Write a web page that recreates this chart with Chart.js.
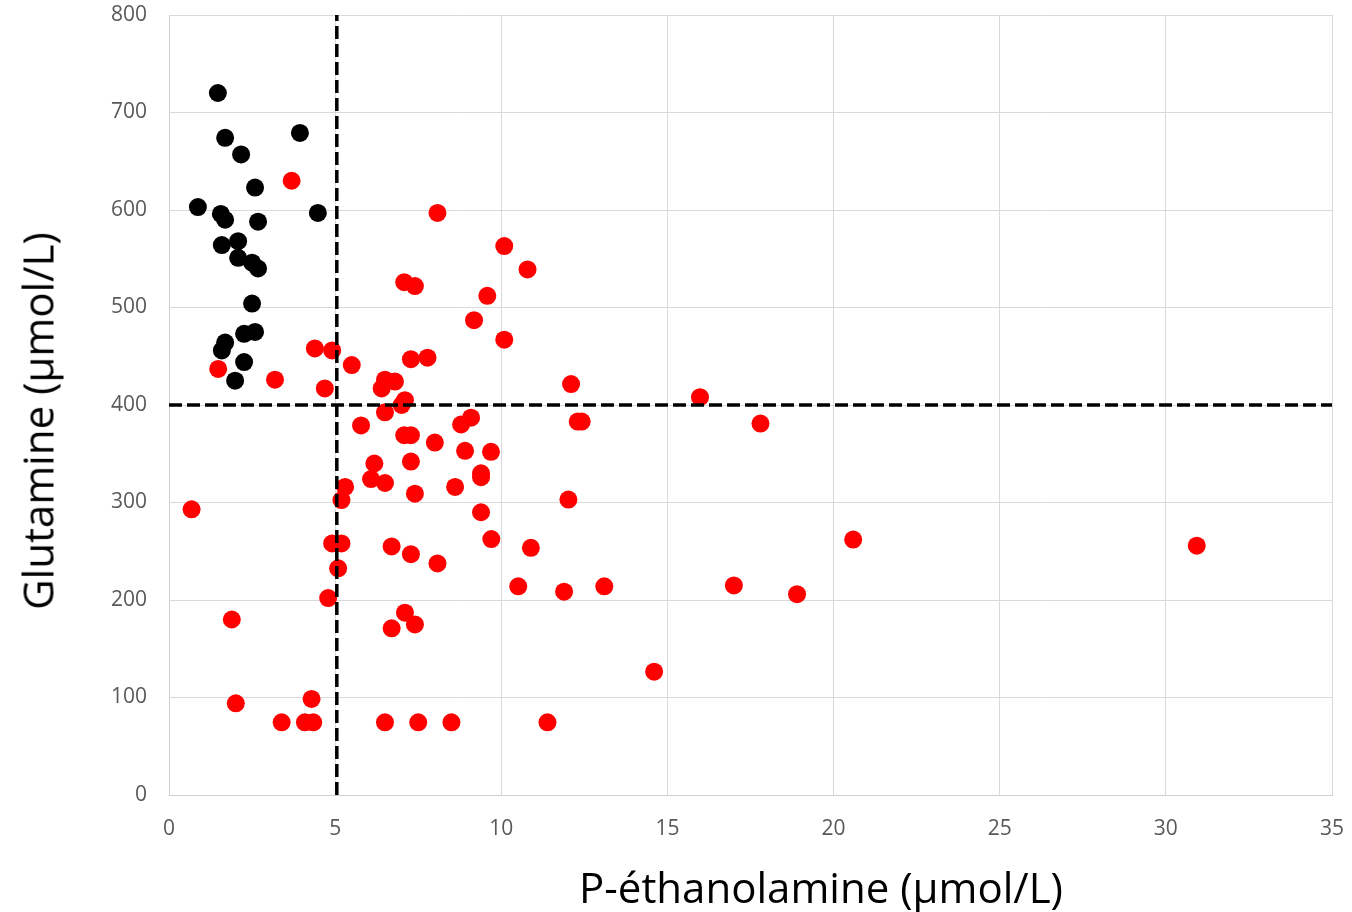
<!DOCTYPE html>
<html>
<head>
<meta charset="utf-8">
<script src="https://cdn.jsdelivr.net/npm/chart.js@4"></script>
<style>
  body { margin: 0; background: #fff; }
  #wrap { position: relative; width: 1352px; height: 912px; }
  .titre { position: absolute; font-family: "Open Sans", sans-serif; font-size: 42px; color: #000; white-space: nowrap; transform: translate(-50%, -50%); }
  #titreX { left: 821px; top: 886px; }
  #titreY { left: 37px; top: 421px; transform: translate(-50%, -50%) rotate(-90deg); }
</style>
</head>
<body>
<div id="wrap">
  <canvas id="myChart" width="1352" height="912"></canvas>
  <div class="titre" id="titreX">P-éthanolamine (µmol/L)</div>
  <div class="titre" id="titreY">Glutamine (µmol/L)</div>
</div>
<script>
// groupe noir
const noirX = [1.47, 3.94, 1.69, 2.17, 2.59, 0.87, 1.56, 1.69, 2.68, 4.48, 2.08,
               1.59, 2.08, 2.50, 2.68, 2.50, 2.59, 2.26, 1.69, 1.59, 2.26, 1.99];
const noirY = [720, 679, 674, 657, 623, 603, 596, 590, 588, 597, 568,
               564, 551, 546, 540, 504, 475, 473, 464, 456, 444, 425];

// groupe rouge
const rougeX = [3.69, 1.48, 3.19, 4.39, 4.91, 5.50, 4.69, 0.68, 1.89, 2.01, 4.29,
                3.39, 4.09, 4.34, 4.79, 5.09, 4.91, 5.19, 5.30, 5.19, 5.78, 8.08,
                10.09, 10.79, 7.08, 7.40, 9.58, 9.18, 10.09, 7.28, 7.78, 6.50, 6.80,
                6.40, 12.10, 7.10, 7.00, 6.50, 9.09, 8.79, 12.30, 12.42, 7.08, 7.28,
                8.00, 8.91, 9.69, 6.18, 7.28, 6.08, 6.50, 9.39, 9.39, 8.61, 7.40,
                12.02, 9.39, 9.70, 6.70, 7.28, 8.08, 10.89, 10.51, 11.89, 13.10,
                7.10, 6.70, 7.40, 6.50, 7.50, 8.50, 11.39, 14.60, 15.98, 17.80,
                20.59, 17.00, 18.90, 30.93];
const rougeY = [630, 437, 426, 458, 456, 441, 417, 293, 180, 94, 98.5,
                74.5, 74.5, 74.5, 202, 232.5, 258, 258, 316, 302.5, 379, 597,
                563, 539, 526, 522, 512, 487, 467, 447, 448.5, 426, 424,
                417, 421.5, 405, 400, 392.5, 387, 380, 383, 383, 369, 369,
                361.5, 353, 352, 340, 342, 324, 320, 330, 326, 316, 309,
                303, 290, 262.5, 255, 247, 237.5, 253.5, 214, 208.5, 214,
                187, 171, 175, 74.5, 74.5, 74.5, 74.5, 126.5, 408, 381,
                262, 215, 206, 255.7];

// seuils
const seuilX = [5.05, 5.05];
const seuilXy = [0, 800];
const seuilY = [400, 400];
const seuilYx = [0, 35];

function points(xs, ys) {
    return xs.map((x, i) => ({ x: x, y: ys[i] }));
}

const data = {
    datasets: [
        {
            label: 'seuil P-éthanolamine',
            data: points(seuilX, seuilXy),
            showLine: true,
            borderColor: '#000',
            borderWidth: 3.5,
            borderDash: [13, 5],
            pointRadius: 0,
            order: 0
        },
        {
            label: 'seuil glutamine',
            data: points(seuilYx, seuilY),
            showLine: true,
            borderColor: '#000',
            borderWidth: 3.5,
            borderDash: [13, 5],
            pointRadius: 0,
            order: 0
        },
        {
            label: 'noir',
            data: points(noirX, noirY),
            backgroundColor: '#000',
            borderWidth: 0,
            pointRadius: 9,
            order: 1
        },
        {
            label: 'rouge',
            data: points(rougeX, rougeY),
            backgroundColor: '#FF0000',
            borderWidth: 0,
            pointRadius: 9,
            order: 2
        }
    ]
};

const tickFont = { family: 'Open Sans', size: 21 };

const config = {
    type: 'scatter',
    data: data,
    options: {
        responsive: false,
        animation: false,
        layout: { padding: { top: 15, right: 20, left: 0, bottom: 0 } },
        plugins: {
            legend: { display: false },
            tooltip: { enabled: false }
        },
        scales: {
            x: {
                min: 0,
                max: 35,
                ticks: { stepSize: 5, color: '#595959', font: tickFont, padding: 21, maxRotation: 0 },
                grid: { color: '#D9D9D9', drawTicks: false },
                border: { color: '#D0D0D0' },
                afterFit: function(scale) {
                    scale.height = 117;
                    scale.paddingLeft = 0;
                    scale.paddingRight = 0;
                }
            },
            y: {
                min: 0,
                max: 800,
                ticks: { stepSize: 100, color: '#595959', font: tickFont, padding: 22 },
                grid: { color: '#D9D9D9', drawTicks: false },
                border: { color: '#D0D0D0' },
                afterFit: function(scale) {
                    scale.width = 169;
                    scale.paddingTop = 0;
                    scale.paddingBottom = 0;
                }
            }
        }
    }
};

const myChart = new Chart(
    document.getElementById('myChart'),
    config
);
</script>
</body>
</html>
